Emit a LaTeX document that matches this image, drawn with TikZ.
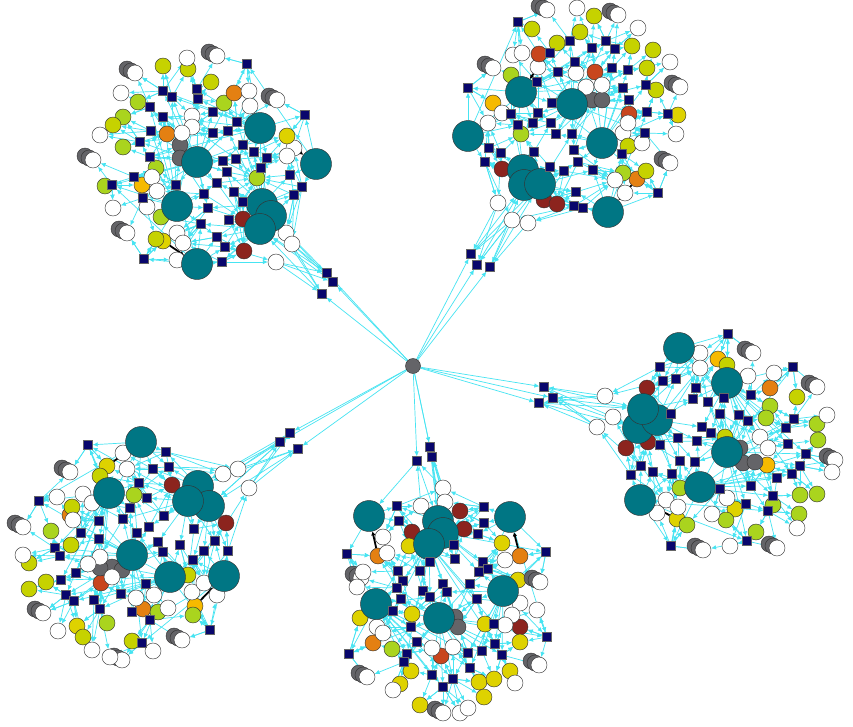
\documentclass[tikz,border=0pt]{standalone}
\usetikzlibrary{arrows.meta,shadows}
\definecolor{tealc}{RGB}{0,118,132}
\definecolor{navyc}{RGB}{8,6,108}
\definecolor{edgec}{RGB}{70,228,242}
\definecolor{greyc}{RGB}{100,100,104}
\definecolor{ygc}{RGB}{198,210,0}
\definecolor{limec}{RGB}{170,212,30}
\definecolor{yelc}{RGB}{222,210,0}
\definecolor{orc}{RGB}{228,128,18}
\definecolor{ambc}{RGB}{246,186,0}
\definecolor{redc}{RGB}{140,36,30}
\definecolor{rorc}{RGB}{200,70,30}
\pgfdeclarelayer{bg}\pgfsetlayers{bg,main}
\tikzset{
  edge/.style={draw=edgec, line width=0.7pt, -{Latex[length=5pt,width=4.5pt]}},
  blk/.style={draw=black, line width=1.8pt, -{Latex[length=4pt,width=4.5pt]}},
  circ/.style={circle, draw=black!80, line width=0.45pt, minimum size=16pt, inner sep=0pt},
  cT/.style={circ, minimum size=31pt, fill=tealc},
  cW/.style={circ, fill=white},
  cS/.style={circ, fill=white, double copy shadow={shadow xshift=-4pt, shadow yshift=2pt, fill=greyc, draw=black!80, opacity=1}},
  cG/.style={circ, fill=greyc},
  cY/.style={circ, fill=ygc},
  cL/.style={circ, fill=limec},
  cU/.style={circ, fill=yelc},
  cO/.style={circ, fill=orc},
  cA/.style={circ, fill=ambc},
  cR/.style={circ, fill=redc},
  cE/.style={circ, fill=rorc},
  sq/.style={rectangle, draw=black!60, fill=navyc, minimum size=9pt, inner sep=0pt, line width=0.3pt},
  hubnode/.style={circ, fill=greyc, minimum size=15pt}
}
\newcommand\findnearT[3]{%
  \gdef\mydA{9999}\gdef\mydB{9999}\gdef\mydC{9999}\gdef\mynA{1}\gdef\mynB{1}\gdef\mynC{1}%
  \foreach \cx/\cy/\ct [count=\j] in #1 {%
    \pgfmathsetmacro\mydd{veclen(\cx-#2,\cy-#3)}%
    \ifdim\mydd pt<\mydA pt\relax
      \xdef\mydC{\mydB}\xdef\mynC{\mynB}%
      \xdef\mydB{\mydA}\xdef\mynB{\mynA}\xdef\mydA{\mydd}\xdef\mynA{\j}%
    \else\ifdim\mydd pt<\mydB pt\relax
      \xdef\mydC{\mydB}\xdef\mynC{\mynB}\xdef\mydB{\mydd}\xdef\mynB{\j}%
    \else\ifdim\mydd pt<\mydC pt\relax \xdef\mydC{\mydd}\xdef\mynC{\j}\fi\fi\fi}}
\newcommand\findnearS[3]{%
  \gdef\mydA{9999}\gdef\mydB{9999}\gdef\mynA{1}\gdef\mynB{1}%
  \foreach \cx/\cy [count=\j] in #1 {%
    \pgfmathsetmacro\mydd{veclen(\cx-#2,\cy-#3)}%
    \ifdim\mydd pt<\mydA pt\relax
      \xdef\mydB{\mydA}\xdef\mynB{\mynA}\xdef\mydA{\mydd}\xdef\mynA{\j}%
    \else\ifdim\mydd pt<\mydB pt\relax \xdef\mydB{\mydd}\xdef\mynB{\j}\fi\fi}}
\newcommand\cluster[6]{%
  \foreach \x/\y/\tp [count=\j] in #3 {\node[c\tp] (#1c\j) at (\x,\y) {};}
  \foreach \x/\y/\tp [count=\j] in #2 {\node[cT] (#1t\j) at (\x,\y) {};}
  \foreach \x/\y [count=\j] in #4 {\node[sq] (#1s\j) at (\x,\y) {};}
  \foreach \x/\y [count=\j] in #5 {\node[sq] (#1l\j) at (\x,\y) {};}
  \begin{pgfonlayer}{bg}
  \foreach \x/\y [count=\k] in #4 {%
    \findnearT{#2}{\x}{\y}\edef\myta{\mynA}\edef\mytb{\mynB}\edef\mytc{\mynC}%
    \findnearT{#3}{\x}{\y}%
    \draw[edge] (#1t\myta) -- (#1s\k);
    \draw[edge] (#1t\mytb) -- (#1s\k);
    \draw[edge] (#1s\k) -- (#1c\mynA);
    \draw[edge] (#1s\k) -- (#1c\mynB);
    \draw[edge] (#1s\k) -- (#1c\mynC);
    \ifodd\k\relax \draw[edge] (#1t\mytc) -- (#1s\k);\fi
  }
  \foreach \x/\y/\tp [count=\k] in #3 {%
    \findnearS{#4}{\x}{\y}%
    \draw[edge] (#1s\mynA) -- (#1c\k);
    \draw[edge] (#1s\mynB) -- (#1c\k);
  }
  \foreach \x/\y [count=\k] in #5 {%
    \draw[edge] (hub) -- (#1l\k);
    \findnearT{#2}{\x}{\y}\edef\myta{\mynA}\edef\mytb{\mynB}%
    \findnearT{#3}{\x}{\y}%
    \draw[edge] (#1l\k) -- (#1t\myta);
    \draw[edge] (#1l\k) -- (#1t\mytb);
    \draw[edge] (#1c\mynA) -- (#1l\k);
    \draw[edge] (#1c\mynB) -- (#1l\k);
  }
  \foreach \ba/\bb in {#6} {\draw[blk] (#1c\ba) -- (#1t\bb);}
  \end{pgfonlayer}
}
% ---------------- cluster A (top left)
\def\tealA{197/162/T,177/206/T,260/128/T,316/164/T,262/204/T,271/216/T,260/229/T,197/264/T}
\def\circA{163/241/U,294/148/W,156/239/Y,163/66/Y,188/69/Y,211/82/Y,224/103/L,138/102/L,123/117/L,113/125/Y,123/147/L,156/168/L,105/186/L,257/178/L,161/217/L,234/93/O,167/134/O,142/185/A,287/136/U,243/219/R,244/251/R,180/145/G,180/158/G,135/73/S,217/56/S,277/100/S,93/160/S,127/233/S,187/58/W,121/93/W,249/91/W,250/106/W,192/116/W,192/127/W,100/135/W,182/133/W,287/156/W,152/177/W,157/191/W,147/207/W,113/208/W,177/233/W,183/243/W,177/260/W,286/233/W,292/244/W,276/262/W}
\def\sqA{247/64,163/91,172/97,197/89,198/99,150/107,163/117,213/112,237/122,151/131,140/142,213/133,228/131,243/145,254/152,267/158,236/159,223/161,261/168,305/115,150/157,134/177,112/185,227/172,217/183,234/192,243/202,290/175,302/187,294/195,176/185,204/194,208/208,143/198,201/224,229/220,217/237,225/247,222/262,144/259}
\def\lnkA{327/273,333/282,322/294}
% ---------------- cluster B (top right)
\def\tealB{521/92/T,572/104/T,468/136/T,602/143/T,523/170/T,524/185/T,540/184/T,608/212/T}
\def\circB{538/67/W,488/123/W,623/133/W,637/179/O,594/16/Y,532/29/Y,580/32/Y,557/43/Y,632/46/Y,653/50/Y,647/68/Y,511/75/L,656/90/Y,678/115/U,521/134/L,628/146/Y,623/173/L,646/171/Y,539/54/E,595/72/E,493/103/A,629/114/E,502/169/R,544/200/R,557/204/R,547/10/S,618/15/S,493/68/S,592/100/G,602/100/G,680/87/S,670/163/S,577/8/W,638/28/W,513/55/W,522/53/W,576/73/W,586/87/W,602/85/W,670/62/W,502/113/W,628/123/W,642/143/W,676/134/W,615/180/W,625/193/W,498/203/W,512/220/W,528/223/W}
\def\sqB{518/22,570/41,592/48,606/41,615/49,550/53,575/62,612/68,628/70,558/72,537/82,468/88,623/88,646/85,552/103,538/113,511/114,629/100,647/112,668/114,518/125,533/123,551/123,556/134,572/134,645/133,489/148,501/153,534/152,574/150,485/162,550/167,564/171,578/162,593/170,622/154,576/192,574/206,583/208,658/193}
\def\lnkB{471/254,477/265,490/267}
% ---------------- cluster C (right)
\def\tealC{679/348/T,727/383/T,638/428/T,657/420/T,643/409/T,727/452/T,700/487/T,640/500/T}
\def\circC{700/353/W,748/376/W,677/519/U,647/388/R,626/448/R,648/442/R,718/359/A,770/388/O,767/465/A,727/365/Y,797/397/Y,770/406/L,766/418/L,817/424/L,818/440/L,725/437/Y,680/488/L,800/495/L,817/494/L,773/505/L,735/509/U,687/525/L,726/520/L,799/514/L,756/532/L,753/353/S,817/387/S,835/460/S,740/448/G,743/463/G,755/462/G,703/550/S,777/548/S,605/396/W,613/417/W,597/427/W,700/368/W,774/373/W,827/415/W,760/437/W,768/448/W,832/472/W,666/500/W,678/507/W,657/513/W,727/498/W,712/514/W,797/528/W,730/546/W}
\def\sqC{728/334,793/367,660/367,663/381,676/379,696/388,693/399,708/402,724/398,751/395,671/414,720/414,739/415,748/421,702/427,711/433,794/419,786/428,660/445,678/438,697/441,788/444,806/454,641/466,653/472,631/475,672/474,680/461,695/462,800/466,792/474,777/478,751/486,720/489,773/496,746/504,768/511,671/546,747/541}
\def\lnkC{544/387,553/398,539/403}
% ---------------- cluster D (bottom)
\def\tealD{369/516/T,438/521/T,443/533/T,429/544/T,510/517/T,503/591/T,376/604/T,439/618/T}
\def\circD{378/556/O,520/556/O,520/603/W,460/511/R,412/532/R,464/529/R,520/627/R,373/643/O,441/656/E,409/546/U,502/543/U,518/580/U,360/618/U,412/614/U,485/624/U,392/649/L,520/642/U,411/671/U,400/684/U,479/682/U,494/679/U,510/671/U,484/697/U,420/705/U,361/578/S,540/582/S,455/617/G,458/627/G,367/677/S,539/665/S,443/713/S,443/488/W,445/502/W,421/506/W,383/537/W,387/553/W,505/560/W,363/572/W,357/587/W,537/610/W,512/615/W,505/625/W,377/627/W,383/633/W,432/648/W,453/647/W,393/690/W,515/683/W,460/713/W,468/708/W}
\def\sqD{397/506,399/521,484/507,484/523,478/534,347/554,454/545,455/559,430/562,483/562,488/569,479/572,546/552,398/571,420/571,403/581,397/588,423/591,430/597,443/584,447/592,470/584,477/599,401/599,393/611,411/627,494/624,417/642,407/654,404/662,468/653,482/651,495/644,502/655,470/668,349/654,547/637,432/675,453/679,443/687}
\def\lnkD{430/447,432/457,417/461}
% ---------------- cluster E (bottom left)
\def\tealE{141/442/T,109/493/T,198/486/T,209/506/T,188/501/T,132/555/T,170/577/T,224/576/T}
\def\circE{107/466/U,195/606/A,172/485/R,226/523/R,70/515/O,101/583/E,143/609/O,100/476/Y,134/495/L,72/507/Y,51/531/L,71/545/Y,29/563/Y,46/582/Y,29/589/Y,188/575/Y,158/612/L,193/615/L,77/626/U,83/637/Y,107/623/L,132/641/Y,70/472/S,23/527/S,43/613/S,122/660/S,182/640/S,112/567/G,122/570/G,100/568/G,123/453/W,127/469/W,223/474/W,238/469/W,249/488/W,57/497/W,83/494/W,92/503/W,73/520/W,23/555/W,100/557/W,88/564/W,112/577/W,136/598/W,154/595/W,168/608/W,192/592/W,204/583/W,217/595/W,58/631/W,92/650/W,110/657/W,153/651/W}
\def\sqE{88/445,166/452,153/469,169/467,139/483,147/498,39/501,130/508,123/519,164/516,99/521,81/533,99/539,149/527,137/533,194/529,215/541,228/551,158/542,180/545,204/551,163/552,193/560,55/548,60/556,76/573,61/580,146/584,66/595,74/601,94/600,121/594,100/609,132/612,150/620,210/630,142/643}
\def\lnkE{290/433,280/442,298/449}
\begin{document}
\begin{tikzpicture}[x=1pt,y=-1pt]
\begin{pgfonlayer}{bg}
\fill[white] (0,0) rectangle (853,726);
\end{pgfonlayer}
\useasboundingbox (0,0) rectangle (853,726);
\node[hubnode] (hub) at (413,366) {};
\cluster{A}{\tealA}{\circA}{\sqA}{\lnkA}{1/8,2/4}
\cluster{B}{\tealB}{\circB}{\sqB}{\lnkB}{1/1,2/3,3/4,4/8}
\cluster{C}{\tealC}{\circC}{\sqC}{\lnkC}{1/1,2/2,3/8}
\cluster{D}{\tealD}{\circD}{\sqD}{\lnkD}{1/1,2/5,3/6}
\cluster{E}{\tealE}{\circE}{\sqE}{\lnkE}{1/1,2/8}
\end{tikzpicture}
\end{document}
